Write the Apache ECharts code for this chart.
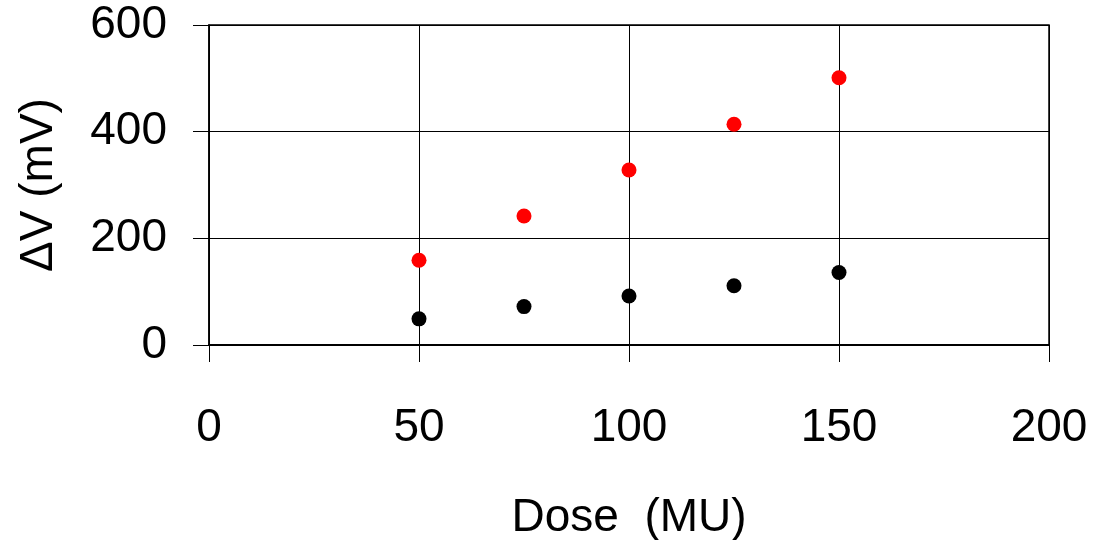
<!DOCTYPE html>
<html>
<head>
<meta charset="utf-8">
<style>
  html, body { margin: 0; padding: 0; background: #fff; }
  #chart { width: 1093px; height: 540px; }
</style>
<script src="https://cdn.jsdelivr.net/npm/echarts@6/dist/echarts.min.js"></script>
</head>
<body>
<div id="chart"></div>
<script>
// Dose values (MU) and measured voltage shift for the two sensor sets
const doses = [50, 75, 100, 125, 150];
const deltaVRed = [159, 242, 328, 414, 501];
const deltaVBlack = [49, 72, 92, 111, 136];

const xTicks = { min: 0, max: 200, interval: 50 };
const yTicks = { min: 0, max: 600, interval: 200 };

const font = 'Arial, "Liberation Sans", sans-serif';

const toPairs = (xs, ys) => xs.map((x, i) => [x, ys[i]]);

const chart = echarts.init(document.getElementById('chart'), null, { renderer: 'canvas' });

chart.setOption({
  backgroundColor: '#ffffff',
  animation: false,
  grid: {
    left: 209, right: 44, top: 25, bottom: 195,
    outerBoundsMode: 'none',
    containLabel: false,
    show: true, borderColor: '#000', borderWidth: 1.5, backgroundColor: 'transparent'
  },
  xAxis: {
    type: 'value',
    min: xTicks.min, max: xTicks.max, interval: xTicks.interval,
    name: 'Dose  (MU)',
    nameLocation: 'middle',
    nameGap: 150,
    nameTextStyle: { fontFamily: font, fontSize: 46, color: '#000' },
    axisLine: { show: true, onZero: false, lineStyle: { color: '#000', width: 2 } },
    axisTick: { show: true, inside: false, length: 17, lineStyle: { color: '#000', width: 1 } },
    axisLabel: { margin: 60, fontFamily: font, fontSize: 46, color: '#000' },
    splitLine: { show: true, lineStyle: { color: '#000', width: 1 } }
  },
  yAxis: {
    type: 'value',
    min: yTicks.min, max: yTicks.max, interval: yTicks.interval,
    name: 'ΔV (mV)',
    nameLocation: 'middle',
    nameGap: 147,
    nameTextStyle: { fontFamily: font, fontSize: 46, color: '#000' },
    axisLine: { show: true, onZero: false, lineStyle: { color: '#000', width: 1.5 } },
    axisTick: { show: true, inside: false, length: 16, lineStyle: { color: '#000', width: 1 } },
    axisLabel: { margin: 42, fontFamily: font, fontSize: 46, color: '#000' },
    splitLine: { show: true, lineStyle: { color: '#000', width: 1 } }
  },
  series: [
    {
      type: 'scatter',
      data: toPairs(doses, deltaVRed),
      symbol: 'circle',
      symbolSize: 15,
      itemStyle: { color: '#ff0000', opacity: 1 }
    },
    {
      type: 'scatter',
      data: toPairs(doses, deltaVBlack),
      symbol: 'circle',
      symbolSize: 15,
      itemStyle: { color: '#000000', opacity: 1 }
    }
  ]
});
</script>
</body>
</html>
